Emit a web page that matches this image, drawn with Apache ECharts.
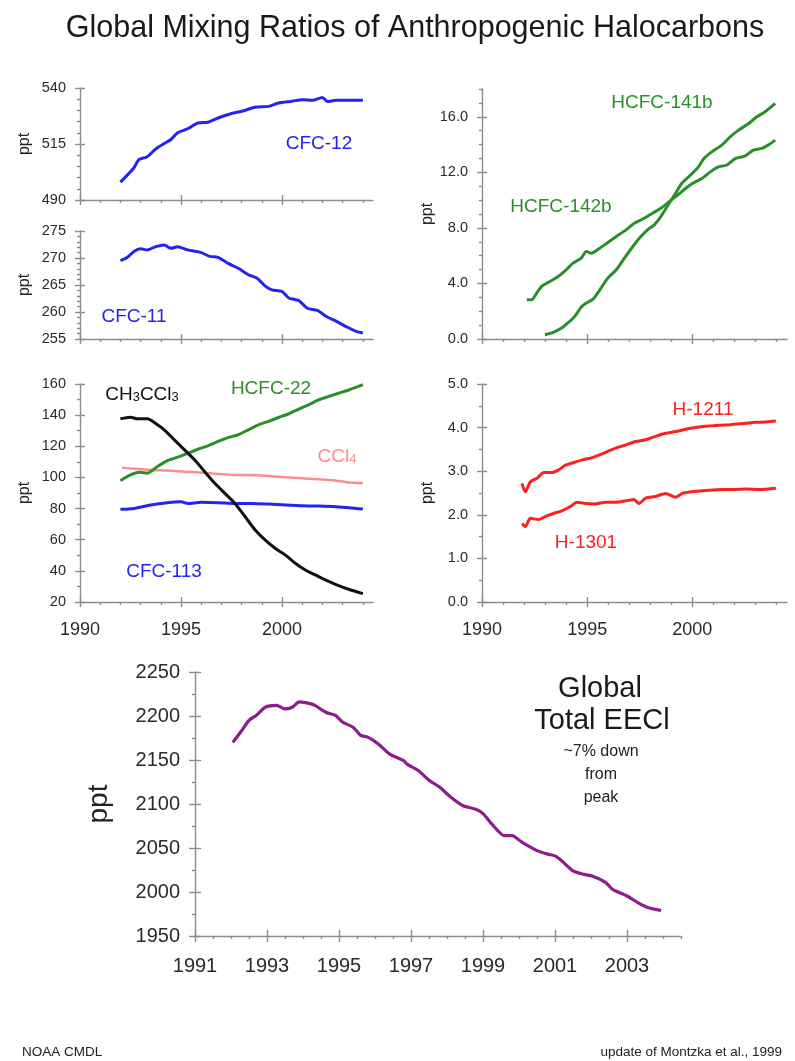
<!DOCTYPE html>
<html><head><meta charset="utf-8">
<script src="https://cdn.jsdelivr.net/npm/echarts@6/dist/echarts.min.js"></script>
<style>html,body{margin:0;padding:0;background:#fff}#c{width:795px;height:1061px}</style>
</head><body><div id="c"></div>
<script>
// ---------------- DATA ----------------
const cfc12Years = [1992.0,1992.33,1992.67,1992.92,1993.33,1993.75,1994.17,1994.5,1994.83,1995.33,1995.83,1996.33,1996.83,1997.5,1998.0,1998.67,1999.33,1999.83,2000.5,2001.0,2001.5,2002.0,2002.25,2002.67,2003.33,2004.0];
const cfc12Values = [498.0,501.0,504.4,508.1,509.3,512.8,515.2,517.0,520.0,521.8,524.4,524.7,526.6,528.6,529.6,531.4,531.8,533.3,534.1,534.8,534.5,535.8,534.0,534.5,534.5,534.5];

const cfc11Years = [1992.0,1992.33,1992.67,1993.0,1993.33,1993.75,1994.17,1994.5,1994.83,1995.33,1996.0,1996.42,1996.83,1997.33,1997.83,1998.33,1998.75,1999.17,1999.5,2000.0,2000.33,2000.83,2001.25,2001.75,2002.17,2002.67,2003.17,2003.67,2004.0];
const cfc11Values = [269.5,270.1,271.2,271.7,271.5,272.1,272.4,271.8,272.1,271.5,271.0,270.3,270.1,269.0,268.1,266.9,266.3,264.8,264.1,263.8,262.6,262.1,260.7,260.3,259.2,258.3,257.3,256.4,256.1];

const ch3ccl3Years = [1992.0,1992.5,1992.83,1993.33,1993.83,1994.17,1994.67,1995.17,1995.67,1996.17,1996.67,1997.17,1997.67,1998.17,1998.67,1999.17,1999.67,2000.17,2000.67,2001.17,2001.67,2002.17,2002.67,2003.33,2004.0];
const ch3ccl3Values = [137.7,138.7,137.7,137.7,133.8,130.6,124.1,117.7,111.3,103.7,96.2,89.8,83.3,74.8,66.2,59.7,54.4,50.1,44.7,40.4,37.2,34.0,31.2,28.0,25.4];

const hcfc22Years = [1992.0,1992.5,1992.92,1993.33,1993.83,1994.33,1994.83,1995.33,1995.83,1996.33,1996.83,1997.33,1997.83,1998.33,1998.83,1999.33,1999.83,2000.33,2000.83,2001.33,2001.83,2002.33,2002.83,2003.33,2004.0];
const hcfc22Values = [97.9,101.6,103.3,102.7,107.0,110.8,113.0,115.5,118.1,120.3,123.1,125.6,127.4,130.6,133.8,136.0,138.5,140.9,143.9,146.7,149.9,152.1,154.2,156.3,159.6];

const ccl4Years = [1992.08,1992.67,1993.5,1994.33,1995.17,1996.0,1996.83,1997.67,1998.5,1999.33,2000.17,2001.0,2001.83,2002.67,2003.33,2004.0];
const ccl4Values = [106.3,105.5,104.8,104.4,103.7,103.1,102.2,101.6,101.6,100.9,100.1,99.4,98.8,97.9,96.7,96.2];

const cfc113Years = [1992.0,1992.67,1993.5,1994.33,1995.0,1995.33,1996.0,1996.83,1997.67,1998.5,1999.33,2000.17,2001.0,2001.83,2002.67,2003.33,2004.0];
const cfc113Values = [79.5,80.1,82.3,83.8,84.4,83.3,84.0,83.8,83.3,83.3,82.9,82.3,81.8,81.6,81.2,80.6,79.7];

const hcfc142bYears = [1992.13,1992.36,1992.6,1992.83,1993.23,1993.62,1994.0,1994.33,1994.72,1994.96,1995.2,1995.6,1995.98,1996.38,1996.85,1997.24,1997.72,1998.1,1998.5,1998.9,1999.3,1999.69,2000.0,2000.47,2000.87,2001.26,2001.65,2002.05,2002.5,2002.9,2003.3,2003.6,2003.94];
const hcfc142bValues = [2.83,2.83,3.3,3.78,4.14,4.5,4.98,5.46,5.82,6.3,6.18,6.54,6.95,7.38,7.86,8.34,8.69,9.05,9.41,9.89,10.37,10.85,11.2,11.57,12.05,12.41,12.53,13.0,13.17,13.6,13.72,13.96,14.32];

const hcfc141bYears = [1992.99,1993.39,1993.78,1994.17,1994.41,1994.72,1994.96,1995.28,1995.6,1995.98,1996.38,1996.77,1997.17,1997.48,1997.87,1998.19,1998.5,1998.9,1999.2,1999.5,2000.0,2000.3,2000.55,2000.94,2001.4,2001.8,2002.2,2002.68,2003.07,2003.46,2003.94];
const hcfc141bValues = [0.31,0.48,0.79,1.27,1.63,2.3,2.59,2.87,3.54,4.38,4.98,5.82,6.66,7.26,7.86,8.22,8.81,9.77,10.49,11.21,11.93,12.41,13.0,13.49,13.96,14.56,15.04,15.52,16.0,16.36,16.96];

const h1211Years = [1991.9,1992.06,1992.3,1992.62,1992.94,1993.33,1993.65,1993.97,1994.37,1994.76,1995.16,1995.56,1995.95,1996.35,1996.83,1997.3,1997.78,1998.25,1998.73,1999.2,1999.68,2000.16,2000.63,2001.1,2001.59,2002.06,2002.54,2003.0,2003.5,2003.97];
const h1211Values = [2.72,2.53,2.76,2.84,2.97,2.97,3.03,3.14,3.2,3.26,3.3,3.37,3.45,3.53,3.6,3.68,3.72,3.8,3.87,3.91,3.96,4.0,4.03,4.05,4.06,4.08,4.1,4.12,4.13,4.15];

const h1301Years = [1991.9,1992.06,1992.3,1992.7,1993.0,1993.4,1993.8,1994.2,1994.52,1994.92,1995.4,1995.87,1996.35,1996.83,1997.22,1997.46,1997.78,1998.25,1998.73,1999.2,1999.52,2000.0,2000.48,2000.95,2001.43,2001.9,2002.54,2003.17,2003.97];
const h1301Values = [1.8,1.73,1.92,1.89,1.96,2.03,2.09,2.19,2.29,2.26,2.25,2.29,2.29,2.32,2.35,2.26,2.38,2.42,2.49,2.4,2.49,2.53,2.55,2.57,2.58,2.58,2.59,2.58,2.61];

const eeclYears = [1992.05,1992.3,1992.5,1992.7,1992.95,1993.27,1993.5,1993.7,1993.9,1994.2,1994.33,1994.65,1994.9,1995.1,1995.4,1995.6,1995.8,1996.1,1996.4,1996.8,1996.9,1997.2,1997.5,1997.8,1998.1,1998.45,1998.8,1999.0,1999.25,1999.6,1999.8,2000.1,2000.5,2000.8,2001.0,2001.2,2001.5,2001.8,2002.05,2002.4,2002.6,2003.0,2003.3,2003.6,2003.95];
const eeclValues = [2170,2183.5,2195,2200.6,2210,2212,2208,2210,2216,2214,2212,2204,2200.6,2193,2187,2178,2176,2168,2157,2149,2145,2138,2127,2119,2108,2098,2094,2089,2077,2064,2064,2056,2047,2043,2041,2035,2024,2020,2018,2011,2003,1995.5,1988,1982,1979];

// tick labels
const smallYearTicks = [1990,1995,2000];
const smallYearMinor = [1991,1992,1993,1994,1996,1997,1998,1999,2001,2002,2003,2004];
const bigYearTicks = [1991,1993,1995,1997,1999,2001,2003];
const bigYearMinor = [1991.5,1992,1992.5,1993.5,1994,1994.5,1995.5,1996,1996.5,1997.5,1998,1998.5,1999.5,2000,2000.5,2001.5,2002,2002.5,2003.5,2004,2004.5];
const cfc12Ticks = [490,515,540];
const cfc12Minor = [495,500,505,510,520,525,530,535];
const cfc11Ticks = [255,260,265,270,275];
const cfc11Minor = [256,257,258,259,261,262,263,264,266,267,268,269,271,272,273,274];
const mixTicks = [20,40,60,80,100,120,140,160];
const mixMinor = [30,50,70,90,110,130,150];
const hcfcTicks = [0,4,8,12,16];
const hcfcMinor = [1,2,3,5,6,7,9,10,11,13,14,15,17,18];
const halonTicks = [0,1,2,3,4,5];
const halonMinor = [0.5,1.5,2.5,3.5,4.5];
const eeclTicks = [1950,2000,2050,2100,2150,2200,2250];
const eeclMinor = [1975,2025,2075,2125,2175,2225];

// ---------------- CHART ----------------
const FONT = '"Liberation Sans", Arial, Helvetica, sans-serif';
const AXIS = '#8c8c8c';
const C_BLUE = '#2424f2', C_GREEN = '#2a8f2a', C_RED = '#ff1f1f', C_PINK = '#ff8c8c', C_BLACK = '#111111', C_PURPLE = '#8c1c90';

const grids = [
  {left: 80,  top: 88,  width: 293, height: 112},
  {left: 80,  top: 231, width: 293, height: 108},
  {left: 80,  top: 384, width: 293, height: 218},
  {left: 482, top: 89,  width: 305, height: 250},
  {left: 482, top: 384, width: 305, height: 218},
  {left: 195, top: 672, width: 486, height: 264}
].map(g => Object.assign({outerBoundsMode: 'none', containLabel: false}, g));

const xAxes = [], yAxes = [];
function addAxes(list, dim, gi, c) {
  const pos = dim === 'x' ? 'bottom' : 'left';
  const base = {type: 'value', gridIndex: gi, min: c.min, max: c.max, position: pos, splitLine: {show: false}, offset: 0};
  if (c.interval) base.interval = c.interval;
  const ls = {color: AXIS, width: 1.4};
  const idx = list.length;
  list.push(Object.assign({}, base, {
    axisLine: {show: true, onZero: false, lineStyle: ls},
    axisTick: {show: true, customValues: c.majors, length: c.tickLen || 5, lineStyle: ls},
    axisLabel: {show: !!c.labels, customValues: c.majors, fontSize: c.fontSize, margin: c.margin, color: '#2a2a2a', fontFamily: FONT,
                formatter: c.fmt || (v => String(v)), showMaxLabel: true, showMinLabel: true},
    name: c.name || '', nameLocation: 'middle', nameRotate: 90, nameGap: c.nameGap || 0,
    nameTextStyle: {fontSize: c.nameSize || 16, color: '#222', fontFamily: FONT}
  }));
  list.push(Object.assign({}, base, {
    axisLine: {show: false}, axisLabel: {show: false},
    axisTick: {show: true, inside: true, customValues: c.majors, length: c.tickLen || 5, lineStyle: ls}
  }));
  list.push(Object.assign({}, base, {
    axisLine: {show: false}, axisLabel: {show: false},
    axisTick: {show: true, customValues: c.minors, length: c.minorLen || 3, lineStyle: ls}
  }));
  return idx;
}
const f1 = v => v.toFixed(1);
const ax = [];
ax[0] = {x: addAxes(xAxes, 'x', 0, {min: 1990, max: 2004.5, interval: 5, majors: smallYearTicks, minors: smallYearMinor, labels: false}),
         y: addAxes(yAxes, 'y', 0, {min: 490, max: 540, interval: 25, majors: cfc12Ticks, minors: cfc12Minor, labels: true, fontSize: 14.5, margin: 14, name: 'ppt', nameGap: 47})};
ax[1] = {x: addAxes(xAxes, 'x', 1, {min: 1990, max: 2004.5, interval: 5, majors: smallYearTicks, minors: smallYearMinor, labels: false}),
         y: addAxes(yAxes, 'y', 1, {min: 255, max: 275, interval: 5, majors: cfc11Ticks, minors: cfc11Minor, labels: true, fontSize: 14.5, margin: 14, name: 'ppt', nameGap: 47})};
ax[2] = {x: addAxes(xAxes, 'x', 2, {min: 1990, max: 2004.5, interval: 5, majors: smallYearTicks, minors: smallYearMinor, labels: true, fontSize: 18, margin: 19}),
         y: addAxes(yAxes, 'y', 2, {min: 20, max: 160, interval: 20, majors: mixTicks, minors: mixMinor, labels: true, fontSize: 14.5, margin: 14, name: 'ppt', nameGap: 47})};
ax[3] = {x: addAxes(xAxes, 'x', 3, {min: 1990, max: 2004.5, interval: 5, majors: smallYearTicks, minors: smallYearMinor, labels: false}),
         y: addAxes(yAxes, 'y', 3, {min: 0, max: 18, interval: 4, majors: hcfcTicks, minors: hcfcMinor, labels: true, fontSize: 14.5, margin: 14, fmt: f1, name: 'ppt', nameGap: 46})};
ax[4] = {x: addAxes(xAxes, 'x', 4, {min: 1990, max: 2004.5, interval: 5, majors: smallYearTicks, minors: smallYearMinor, labels: true, fontSize: 18, margin: 19}),
         y: addAxes(yAxes, 'y', 4, {min: 0, max: 5, interval: 1, majors: halonTicks, minors: halonMinor, labels: true, fontSize: 14.5, margin: 14, fmt: f1, name: 'ppt', nameGap: 46})};
ax[5] = {x: addAxes(xAxes, 'x', 5, {min: 1991, max: 2004.5, interval: 2, majors: bigYearTicks, minors: bigYearMinor, labels: true, fontSize: 20, margin: 20, tickLen: 6}),
         y: addAxes(yAxes, 'y', 5, {min: 1950, max: 2250, interval: 50, majors: eeclTicks, minors: eeclMinor, labels: true, fontSize: 20, margin: 15, name: 'ppt', nameGap: 82, nameSize: 28, tickLen: 6})};

function zip(xs, ys) { return xs.map((x, i) => [x, ys[i]]); }
function line(name, p, xs, ys, color, w) {
  return {name, type: 'line', xAxisIndex: ax[p].x, yAxisIndex: ax[p].y, data: zip(xs, ys), showSymbol: false, symbol: 'none',
          smooth: 0.25, lineStyle: {color, width: w || 3}, itemStyle: {color}, silent: true, animation: false, z: 5};
}
const series = [
  line('CFC-12', 0, cfc12Years, cfc12Values, C_BLUE),
  line('CFC-11', 1, cfc11Years, cfc11Values, C_BLUE),
  line('CCl4', 2, ccl4Years, ccl4Values, C_PINK, 2.5),
  line('CFC-113', 2, cfc113Years, cfc113Values, C_BLUE),
  line('HCFC-22', 2, hcfc22Years, hcfc22Values, C_GREEN),
  line('CH3CCl3', 2, ch3ccl3Years, ch3ccl3Values, C_BLACK),
  line('HCFC-142b', 3, hcfc142bYears, hcfc142bValues, C_GREEN),
  line('HCFC-141b', 3, hcfc141bYears, hcfc141bValues, C_GREEN),
  line('H-1211', 4, h1211Years, h1211Values, C_RED),
  line('H-1301', 4, h1301Years, h1301Values, C_RED),
  line('EECl', 5, eeclYears, eeclValues, C_PURPLE, 3.2)
];

function txt(text, x, y, size, color, align) {
  return {type: 'text', x, y, silent: true, z: 10,
          style: {text, fill: color, font: size + 'px ' + FONT, align: align || 'center', verticalAlign: 'middle'}};
}
function richTxt(parts, x, y, size, color) {
  const rich = {a: {fontSize: size, fontFamily: FONT, fill: color}, s: {fontSize: size * 0.68, fontFamily: FONT, fill: color, padding: [size * 0.28, 0, 0, 0]}};
  return {type: 'text', x, y, silent: true, z: 10,
          style: {text: parts, rich, fill: color, font: size + 'px ' + FONT, align: 'center', verticalAlign: 'middle'}};
}

const graphic = [
  txt('CFC-12', 319, 144, 19, C_BLUE),
  txt('CFC-11', 134, 317, 19, C_BLUE),
  txt('HCFC-141b', 662, 103, 19, C_GREEN),
  txt('HCFC-142b', 561, 207, 19, C_GREEN),
  richTxt('{a|CH}{s|3}{a|CCl}{s|3}', 142, 395, 19, C_BLACK),
  txt('HCFC-22', 271, 389, 19, C_GREEN),
  richTxt('{a|CCl}{s|4}', 337, 457, 19, C_PINK),
  txt('CFC-113', 164, 572, 19, C_BLUE),
  txt('H-1211', 703, 410, 19, C_RED),
  txt('H-1301', 586, 543, 19, C_RED),
  txt('Global', 600, 689, 29, '#1a1a1a'),
  txt('Total EECl', 602, 721, 29, '#1a1a1a'),
  txt('~7% down', 601, 752, 16, '#222'),
  txt('from', 601, 775, 16, '#222'),
  txt('peak', 601, 798, 16, '#222'),
  txt('NOAA CMDL', 22, 1052, 13.5, '#222', 'left'),
  txt('update of Montzka et al., 1999', 782, 1052, 13.5, '#222', 'right')
];

const chart = echarts.init(document.getElementById('c'), null, {renderer: 'canvas'});
chart.setOption({
  backgroundColor: '#ffffff',
  animation: false,
  title: {text: 'Global Mixing Ratios of Anthropogenic Halocarbons', left: 410, top: 8, textAlign: 'center',
          textStyle: {fontSize: 30.5, fontWeight: 'normal', color: '#1a1a1a', fontFamily: FONT}},
  grid: grids,
  xAxis: xAxes,
  yAxis: yAxes,
  series,
  graphic
});
</script></body></html>
